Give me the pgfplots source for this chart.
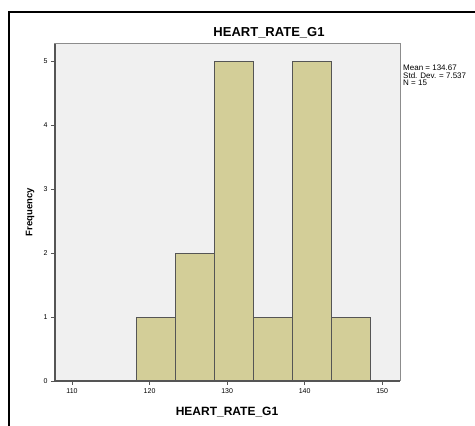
\documentclass[border=0pt]{standalone}
\usepackage{pgfplots}
\pgfplotsset{compat=1.18}
\usepackage{fontspec}
\setmainfont{Liberation Sans}
\definecolor{barfill}{HTML}{D3CE98}
\definecolor{plotbg}{HTML}{F0F0F0}
\definecolor{frameg}{HTML}{8C8C8C}
\definecolor{axisd}{HTML}{555555}
\begin{document}
\begin{tikzpicture}
\useasboundingbox (0,0) rectangle (475pt,426pt);
\fill[white] (0,0) rectangle (475pt,426pt);
% outer frame (cut at right and bottom)
\draw[black, line width=2pt] (9pt,0) -- (9pt,414pt) -- (475pt,414pt);
\begin{axis}[
  at={(55pt,45pt)}, anchor=south west,
  scale only axis, width=345pt, height=337pt,
  xmin=107.8, xmax=152.3, ymin=0, ymax=5.27,
  xtick={110,120,130,140,150}, ytick={0,1,2,3,4,5},
  tick align=outside, major tick length=4pt,
  tick style={axisd, line width=0.8pt},
  tick label style={font=\fontsize{7}{8}\selectfont, black},
  /pgf/number format/assume math mode=true,
  axis background/.style={fill=plotbg},
  axis line style={frameg, line width=1pt},
  xtick pos=bottom, ytick pos=left,
  clip=false,
]
\addplot[ybar interval, fill=barfill, draw=axisd, line width=0.8pt] coordinates {
  (118.3,1)(123.32,2)(128.34,5)(133.36,1)(138.38,5)(143.4,1)(148.42,1)};
\draw[axisd, line width=1.2pt] (rel axis cs:0,1) -- (rel axis cs:0,0) -- (rel axis cs:1,0);
\end{axis}
\node[font=\bfseries\fontsize{13}{15}\selectfont] at (269pt,393pt) {HEART\_RATE\_G1};
\node[font=\bfseries\fontsize{12}{14}\selectfont] at (227pt,14pt) {HEART\_RATE\_G1};
\node[font=\bfseries\fontsize{9.5}{11}\selectfont, rotate=90] at (30pt,214pt) {Frequency};
\node[font=\fontsize{8}{7.6}\selectfont, anchor=north west, align=left, inner sep=0pt] at (403pt,361pt) {Mean = 134.67\\Std. Dev. = 7.537\\N = 15};
\end{tikzpicture}
\end{document}
